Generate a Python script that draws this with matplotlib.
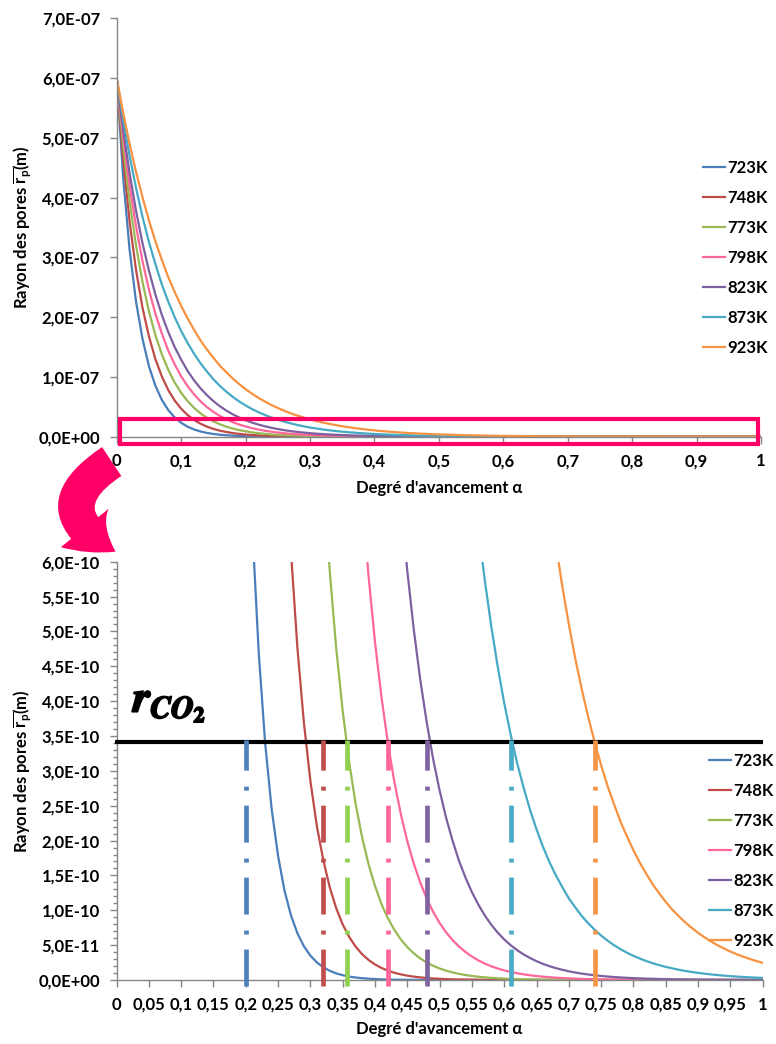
import matplotlib
matplotlib.use("Agg")
import numpy as np
import matplotlib.pyplot as plt
from matplotlib.ticker import MultipleLocator, FuncFormatter
from matplotlib.patches import Rectangle, FancyArrowPatch
import matplotlib.patheffects as pe

plt.rcParams['font.family'] = ['Lato', 'DejaVu Sans']
plt.rcParams['font.weight'] = 'bold'
plt.rcParams['mathtext.fontset'] = 'custom'
plt.rcParams['mathtext.rm'] = 'Lato:bold'
plt.rcParams['mathtext.it'] = 'Lato:bold'
plt.rcParams['mathtext.bf'] = 'Lato:bold'
plt.rcParams['lines.scale_dashes'] = False

# ---------------------------------------------------------------- data
temperatures = ['723K', '748K', '773K', '798K', '823K', '873K', '923K']

# degree of advancement, sampled every 0.01
alpha = [i / 100 for i in range(101)]

# mean pore radius (m) for each temperature
r_723 = [6.00e-07, 4.34e-07, 3.13e-07, 2.26e-07, 1.64e-07, 1.18e-07, 8.54e-08, 6.17e-08, 4.46e-08, 3.22e-08,
         2.33e-08, 1.68e-08, 1.21e-08, 8.78e-09, 6.34e-09, 4.58e-09, 3.31e-09, 2.39e-09, 1.73e-09, 1.25e-09,
         9.02e-10, 6.52e-10, 4.71e-10, 3.40e-10, 2.46e-10, 1.78e-10, 1.28e-10, 9.27e-11, 6.70e-11, 4.84e-11,
         3.50e-11, 2.53e-11, 1.83e-11, 1.32e-11, 9.53e-12, 6.89e-12, 4.98e-12, 3.59e-12, 2.60e-12, 1.88e-12,
         1.36e-12, 9.8e-13, 7.1e-13, 5.1e-13, 3.7e-13, 2.7e-13, 1.9e-13, 1.4e-13, 1.0e-13, 7.3e-14,
         5.3e-14, 3.8e-14, 2.7e-14, 2.0e-14, 1.4e-14, 1.0e-14, 7.4e-15, 5.4e-15, 3.9e-15, 2.8e-15,
         2.0e-15, 1.5e-15, 1.1e-15, 7.7e-16, 5.6e-16, 4.0e-16, 2.9e-16, 2.1e-16, 1.5e-16, 1.1e-16,
         7.9e-17, 5.7e-17, 4.1e-17, 3.0e-17, 2.2e-17, 1.6e-17, 1.1e-17, 8.1e-18, 5.9e-18, 4.2e-18,
         3.1e-18, 2.2e-18, 1.6e-18, 1.2e-18, 8.3e-19, 6.0e-19, 4.3e-19, 3.1e-19, 2.3e-19, 1.6e-19,
         1.2e-19, 8.6e-20, 6.2e-20, 4.5e-20, 3.2e-20, 2.3e-20, 1.7e-20, 1.2e-20, 8.8e-21, 6.3e-21,
         4.6e-21]
r_748 = [6.00e-07, 4.65e-07, 3.60e-07, 2.79e-07, 2.16e-07, 1.68e-07, 1.30e-07, 1.01e-07, 7.80e-08, 6.05e-08,
         4.68e-08, 3.63e-08, 2.81e-08, 2.18e-08, 1.69e-08, 1.31e-08, 1.01e-08, 7.86e-09, 6.09e-09, 4.72e-09,
         3.66e-09, 2.83e-09, 2.20e-09, 1.70e-09, 1.32e-09, 1.02e-09, 7.92e-10, 6.14e-10, 4.76e-10, 3.69e-10,
         2.86e-10, 2.21e-10, 1.72e-10, 1.33e-10, 1.03e-10, 7.98e-11, 6.19e-11, 4.79e-11, 3.71e-11, 2.88e-11,
         2.23e-11, 1.73e-11, 1.34e-11, 1.04e-11, 8.04e-12, 6.23e-12, 4.83e-12, 3.74e-12, 2.90e-12, 2.25e-12,
         1.74e-12, 1.3e-12, 1.0e-12, 8.1e-13, 6.3e-13, 4.9e-13, 3.8e-13, 2.9e-13, 2.3e-13, 1.8e-13,
         1.4e-13, 1.1e-13, 8.2e-14, 6.3e-14, 4.9e-14, 3.8e-14, 2.9e-14, 2.3e-14, 1.8e-14, 1.4e-14,
         1.1e-14, 8.2e-15, 6.4e-15, 4.9e-15, 3.8e-15, 3.0e-15, 2.3e-15, 1.8e-15, 1.4e-15, 1.1e-15,
         8.3e-16, 6.4e-16, 5.0e-16, 3.9e-16, 3.0e-16, 2.3e-16, 1.8e-16, 1.4e-16, 1.1e-16, 8.4e-17,
         6.5e-17, 5.0e-17, 3.9e-17, 3.0e-17, 2.3e-17, 1.8e-17, 1.4e-17, 1.1e-17, 8.4e-18, 6.5e-18,
         5.1e-18]
r_773 = [6.00e-07, 4.86e-07, 3.94e-07, 3.20e-07, 2.59e-07, 2.10e-07, 1.70e-07, 1.38e-07, 1.12e-07, 9.06e-08,
         7.35e-08, 5.96e-08, 4.83e-08, 3.91e-08, 3.17e-08, 2.57e-08, 2.08e-08, 1.69e-08, 1.37e-08, 1.11e-08,
         9.00e-09, 7.29e-09, 5.91e-09, 4.79e-09, 3.88e-09, 3.15e-09, 2.55e-09, 2.07e-09, 1.68e-09, 1.36e-09,
         1.10e-09, 8.93e-10, 7.24e-10, 5.87e-10, 4.76e-10, 3.86e-10, 3.13e-10, 2.53e-10, 2.05e-10, 1.66e-10,
         1.35e-10, 1.09e-10, 8.86e-11, 7.19e-11, 5.82e-11, 4.72e-11, 3.83e-11, 3.10e-11, 2.51e-11, 2.04e-11,
         1.65e-11, 1.34e-11, 1.09e-11, 8.80e-12, 7.13e-12, 5.78e-12, 4.69e-12, 3.80e-12, 3.08e-12, 2.50e-12,
         2.02e-12, 1.6e-12, 1.3e-12, 1.1e-12, 8.7e-13, 7.1e-13, 5.7e-13, 4.7e-13, 3.8e-13, 3.1e-13,
         2.5e-13, 2.0e-13, 1.6e-13, 1.3e-13, 1.1e-13, 8.7e-14, 7.0e-14, 5.7e-14, 4.6e-14, 3.7e-14,
         3.0e-14, 2.5e-14, 2.0e-14, 1.6e-14, 1.3e-14, 1.1e-14, 8.6e-15, 7.0e-15, 5.7e-15, 4.6e-15,
         3.7e-15, 3.0e-15, 2.4e-15, 2.0e-15, 1.6e-15, 1.3e-15, 1.1e-15, 8.5e-16, 6.9e-16, 5.6e-16,
         4.6e-16]
r_798 = [6.00e-07, 5.02e-07, 4.20e-07, 3.52e-07, 2.94e-07, 2.46e-07, 2.06e-07, 1.73e-07, 1.44e-07, 1.21e-07,
         1.01e-07, 8.47e-08, 7.09e-08, 5.93e-08, 4.96e-08, 4.16e-08, 3.48e-08, 2.91e-08, 2.44e-08, 2.04e-08,
         1.71e-08, 1.43e-08, 1.20e-08, 1.00e-08, 8.37e-09, 7.01e-09, 5.86e-09, 4.91e-09, 4.11e-09, 3.44e-09,
         2.88e-09, 2.41e-09, 2.02e-09, 1.69e-09, 1.41e-09, 1.18e-09, 9.89e-10, 8.28e-10, 6.93e-10, 5.80e-10,
         4.85e-10, 4.06e-10, 3.40e-10, 2.84e-10, 2.38e-10, 1.99e-10, 1.67e-10, 1.40e-10, 1.17e-10, 9.78e-11,
         8.18e-11, 6.85e-11, 5.73e-11, 4.80e-11, 4.02e-11, 3.36e-11, 2.81e-11, 2.35e-11, 1.97e-11, 1.65e-11,
         1.38e-11, 1.15e-11, 9.67e-12, 8.09e-12, 6.77e-12, 5.67e-12, 4.74e-12, 3.97e-12, 3.32e-12, 2.78e-12,
         2.33e-12, 1.9e-12, 1.6e-12, 1.4e-12, 1.1e-12, 9.6e-13, 8.0e-13, 6.7e-13, 5.6e-13, 4.7e-13,
         3.9e-13, 3.3e-13, 2.7e-13, 2.3e-13, 1.9e-13, 1.6e-13, 1.3e-13, 1.1e-13, 9.4e-14, 7.9e-14,
         6.6e-14, 5.5e-14, 4.6e-14, 3.9e-14, 3.2e-14, 2.7e-14, 2.3e-14, 1.9e-14, 1.6e-14, 1.3e-14,
         1.1e-14]
r_823 = [6.00e-07, 5.14e-07, 4.41e-07, 3.78e-07, 3.24e-07, 2.78e-07, 2.38e-07, 2.04e-07, 1.75e-07, 1.50e-07,
         1.29e-07, 1.10e-07, 9.45e-08, 8.10e-08, 6.95e-08, 5.96e-08, 5.11e-08, 4.38e-08, 3.75e-08, 3.22e-08,
         2.76e-08, 2.36e-08, 2.03e-08, 1.74e-08, 1.49e-08, 1.28e-08, 1.09e-08, 9.38e-09, 8.04e-09, 6.90e-09,
         5.91e-09, 5.07e-09, 4.34e-09, 3.72e-09, 3.19e-09, 2.74e-09, 2.35e-09, 2.01e-09, 1.72e-09, 1.48e-09,
         1.27e-09, 1.09e-09, 9.31e-10, 7.98e-10, 6.84e-10, 5.87e-10, 5.03e-10, 4.31e-10, 3.70e-10, 3.17e-10,
         2.72e-10, 2.33e-10, 2.00e-10, 1.71e-10, 1.47e-10, 1.26e-10, 1.08e-10, 9.25e-11, 7.93e-11, 6.79e-11,
         5.82e-11, 4.99e-11, 4.28e-11, 3.67e-11, 3.15e-11, 2.70e-11, 2.31e-11, 1.98e-11, 1.70e-11, 1.46e-11,
         1.25e-11, 1.07e-11, 9.18e-12, 7.87e-12, 6.74e-12, 5.78e-12, 4.96e-12, 4.25e-12, 3.64e-12, 3.12e-12,
         2.68e-12, 2.29e-12, 1.97e-12, 1.69e-12, 1.45e-12, 1.24e-12, 1.06e-12, 9.11e-13, 7.81e-13, 6.69e-13,
         5.74e-13, 4.92e-13, 4.22e-13, 3.62e-13, 3.10e-13, 2.66e-13, 2.28e-13, 1.95e-13, 1.67e-13, 1.44e-13,
         1.23e-13]
r_873 = [6.00e-07, 5.31e-07, 4.70e-07, 4.16e-07, 3.68e-07, 3.26e-07, 2.89e-07, 2.55e-07, 2.26e-07, 2.00e-07,
         1.77e-07, 1.57e-07, 1.39e-07, 1.23e-07, 1.09e-07, 9.62e-08, 8.52e-08, 7.54e-08, 6.67e-08, 5.91e-08,
         5.23e-08, 4.63e-08, 4.10e-08, 3.63e-08, 3.21e-08, 2.84e-08, 2.52e-08, 2.23e-08, 1.97e-08, 1.74e-08,
         1.54e-08, 1.37e-08, 1.21e-08, 1.07e-08, 9.48e-09, 8.39e-09, 7.43e-09, 6.57e-09, 5.82e-09, 5.15e-09,
         4.56e-09, 4.03e-09, 3.57e-09, 3.16e-09, 2.80e-09, 2.48e-09, 2.19e-09, 1.94e-09, 1.72e-09, 1.52e-09,
         1.35e-09, 1.19e-09, 1.05e-09, 9.33e-10, 8.26e-10, 7.31e-10, 6.47e-10, 5.73e-10, 5.07e-10, 4.49e-10,
         3.97e-10, 3.52e-10, 3.11e-10, 2.76e-10, 2.44e-10, 2.16e-10, 1.91e-10, 1.69e-10, 1.50e-10, 1.33e-10,
         1.17e-10, 1.04e-10, 9.19e-11, 8.13e-11, 7.20e-11, 6.37e-11, 5.64e-11, 4.99e-11, 4.42e-11, 3.91e-11,
         3.46e-11, 3.07e-11, 2.71e-11, 2.40e-11, 2.13e-11, 1.88e-11, 1.67e-11, 1.47e-11, 1.30e-11, 1.15e-11,
         1.02e-11, 9.05e-12, 8.01e-12, 7.09e-12, 6.28e-12, 5.55e-12, 4.92e-12, 4.35e-12, 3.85e-12, 3.41e-12,
         3.02e-12]
r_923 = [6.00e-07, 5.42e-07, 4.90e-07, 4.43e-07, 4.01e-07, 3.62e-07, 3.27e-07, 2.96e-07, 2.67e-07, 2.42e-07,
         2.19e-07, 1.98e-07, 1.79e-07, 1.61e-07, 1.46e-07, 1.32e-07, 1.19e-07, 1.08e-07, 9.74e-08, 8.81e-08,
         7.96e-08, 7.19e-08, 6.50e-08, 5.88e-08, 5.31e-08, 4.80e-08, 4.34e-08, 3.92e-08, 3.55e-08, 3.21e-08,
         2.90e-08, 2.62e-08, 2.37e-08, 2.14e-08, 1.94e-08, 1.75e-08, 1.58e-08, 1.43e-08, 1.29e-08, 1.17e-08,
         1.06e-08, 9.54e-09, 8.63e-09, 7.80e-09, 7.05e-09, 6.37e-09, 5.76e-09, 5.21e-09, 4.71e-09, 4.25e-09,
         3.85e-09, 3.48e-09, 3.14e-09, 2.84e-09, 2.57e-09, 2.32e-09, 2.10e-09, 1.90e-09, 1.71e-09, 1.55e-09,
         1.40e-09, 1.27e-09, 1.14e-09, 1.03e-09, 9.35e-10, 8.45e-10, 7.64e-10, 6.91e-10, 6.24e-10, 5.64e-10,
         5.10e-10, 4.61e-10, 4.17e-10, 3.77e-10, 3.41e-10, 3.08e-10, 2.78e-10, 2.52e-10, 2.27e-10, 2.06e-10,
         1.86e-10, 1.68e-10, 1.52e-10, 1.37e-10, 1.24e-10, 1.12e-10, 1.01e-10, 9.16e-11, 8.28e-11, 7.49e-11,
         6.77e-11, 6.12e-11, 5.53e-11, 5.00e-11, 4.52e-11, 4.08e-11, 3.69e-11, 3.34e-11, 3.02e-11, 2.73e-11,
         2.46e-11]
radii = [r_723, r_748, r_773, r_798, r_823, r_873, r_923]

# CO2 molecular radius (m) and the advancement marked for each temperature
r_co2 = 3.42e-10
alpha_marks = [0.20, 0.32, 0.356, 0.42, 0.48, 0.61, 0.74]

curve_colors = ['#4A7EBB', '#BE4B48', '#98B954', '#FF6699', '#7D60A0', '#46AAC5', '#F69240']
mark_colors = ['#4F81BD', '#C0504D', '#92D050', '#FF6699', '#8064A2', '#4BACC6', '#F79646']

# ---------------------------------------------------------------- figure
W, H = 776, 1044
FS = 12
fig = plt.figure(figsize=(W / 100, H / 100), dpi=100)


def sci_comma(v, pos=None):
    if abs(v) < 1e-30:
        return '0,0E+00'
    e = int(np.floor(np.log10(abs(v)) + 1e-9))
    m = v / 10 ** e
    return f"{m:.1f}".replace('.', ',') + f"E{e:+03d}"


def dec_comma(v, pos=None):
    return f"{v:g}".replace('.', ',')


def style_axes(ax):
    for s in ('top', 'right'):
        ax.spines[s].set_visible(False)
    for s in ('left', 'bottom'):
        ax.spines[s].set_color('#868686')
        ax.spines[s].set_linewidth(1.0)
    ax.tick_params(axis='both', which='both', color='#868686', direction='out',
                   labelsize=FS, labelcolor='black')
    ax.tick_params(axis='both', which='major', length=5, width=1)
    ax.tick_params(axis='y', which='major', pad=7)
    ax.tick_params(axis='x', which='major', pad=7)
    ax.tick_params(axis='y', which='minor', length=3, width=1)
    ax.xaxis.set_major_formatter(FuncFormatter(dec_comma))
    ax.yaxis.set_major_formatter(FuncFormatter(sci_comma))
    ax.set_xlim(0, 1)
    ax.set_xlabel("Degré d'avancement α", fontsize=FS, fontweight='bold')
    ax.set_ylabel(r"Rayon des pores $\overline{\mathrm{r}_\mathrm{p}}$(m)",
                  fontsize=FS, fontweight='bold')


def add_legend(ax, x_px, y_px):
    ax.legend(loc='upper left', bbox_to_anchor=(x_px / W, 1 - y_px / H),
              bbox_transform=fig.transFigure, frameon=False,
              prop={'size': FS, 'weight': 'bold'}, handlelength=1.3,
              handletextpad=0.15, labelspacing=0.84, borderpad=0, borderaxespad=0)


# Upper panel: full range of the pore radius
ax1 = fig.add_axes([116.7 / W, 1 - 436.7 / H, 644.3 / W, 418.4 / H])
for name, vals, c in zip(temperatures, radii, curve_colors):
    ax1.plot(alpha, vals, color=c, lw=1.6, label=name)
ax1.set_ylim(0, 7e-7)
ax1.xaxis.set_major_locator(MultipleLocator(0.1))
ax1.yaxis.set_major_locator(MultipleLocator(1e-7))
style_axes(ax1)
ax1.xaxis.set_label_coords(0.5, -0.104)
ax1.yaxis.set_label_coords(-0.128, 0.5)
add_legend(ax1, 703, 160)

# window enlarged in the lower panel
ax1.add_patch(Rectangle((0.005, -1.3e-8), 0.991, 4.2e-8, fill=False,
                        edgecolor='#FF0066', lw=3, clip_on=False, zorder=5))

# Lower panel: enlargement near zero
ax2 = fig.add_axes([116.5 / W, 1 - 980 / H, 646.2 / W, 418.3 / H])
for name, vals, c in zip(temperatures, radii, curve_colors):
    ax2.plot(alpha, vals, color=c, lw=1.6, label=name, zorder=2)
ax2.set_ylim(0, 6e-10)
ax2.xaxis.set_major_locator(MultipleLocator(0.05))
ax2.yaxis.set_major_locator(MultipleLocator(5e-11))
ax2.yaxis.set_minor_locator(MultipleLocator(1e-11))
style_axes(ax2)
ax2.xaxis.set_label_coords(0.5, -0.098)
ax2.yaxis.set_label_coords(-0.128, 0.5)

# CO2 radius level and the matching advancement for each curve
ax2.plot([-0.003, 1.0], [r_co2, r_co2], color='black', lw=3, clip_on=False,
         solid_capstyle='butt', zorder=3)
for a, c in zip(alpha_marks, mark_colors):
    ax2.plot([a, a], [-0.08e-10, r_co2 + 0.02e-10], color=c, lw=3.4,
             dashes=(26.6, 10.8, 2.9, 11.5), dash_capstyle='butt',
             clip_on=False, zorder=4)
add_legend(ax2, 709, 753)

fig.text(133 / W, 1 - 712 / H, r"$r_{CO_2}$", fontsize=32, math_fontfamily='stix',
         ha='left', va='baseline',
         path_effects=[pe.withStroke(linewidth=1.3, foreground='black')])

# curved arrow linking the two panels
arrow = FancyArrowPatch((114 / W, 1 - 460 / H), (118 / W, 1 - 553 / H),
                        transform=fig.transFigure,
                        connectionstyle='arc3,rad=0.85',
                        arrowstyle='simple,head_length=1.4,head_width=2.2,tail_width=1.25',
                        mutation_scale=20, color='#FF0066', zorder=10, lw=0)
fig.add_artist(arrow)

fig.savefig('out.png', dpi=100)
